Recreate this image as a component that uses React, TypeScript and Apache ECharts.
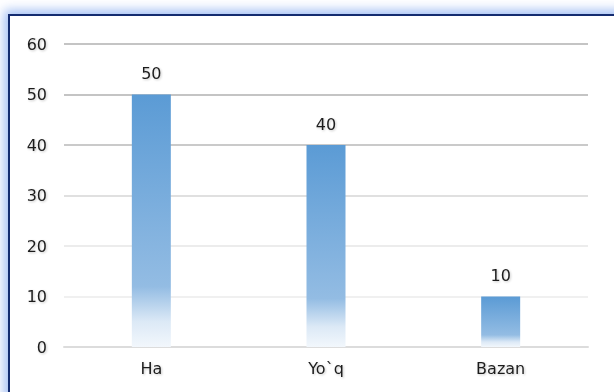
import React, { useEffect, useRef } from "react";
import * as echarts from "echarts";

const categories = ["Ha", "Yo`q", "Bazan"];
const values = [50, 40, 10];
const gridColors = ["#dcdcdc", "#f0f0f0", "#ececec", "#e0e0e0", "#cacaca", "#c4c4c4", "#c4c4c4"];

const FONT = "'DejaVu Sans', 'Open Sans', sans-serif";

export default function App() {
  const ref = useRef<HTMLDivElement>(null);
  useEffect(() => {
    if (!ref.current) return;
    const chart = echarts.init(ref.current, undefined, { renderer: "svg" });
    const textStyle = {
      color: "#1e1e1e",
      fontFamily: FONT,
      fontSize: 16,
      textShadowColor: "rgba(0,0,0,0.22)",
      textShadowBlur: 2,
      textShadowOffsetX: 1,
      textShadowOffsetY: 1,
    };
    chart.setOption({
      animation: false,
      grid: { left: 64, right: 26, top: 44, bottom: 45, containLabel: false },
      xAxis: {
        type: "category",
        data: categories,
        axisLine: { show: true, lineStyle: { color: "#dcdcdc", width: 2 } },
        axisTick: { show: false },
        axisLabel: { ...textStyle, margin: 13 },
      },
      yAxis: {
        type: "value",
        min: 0,
        max: 60,
        interval: 10,
        axisLine: { show: false },
        axisTick: { show: false },
        axisLabel: { ...textStyle, margin: 17 },
        splitLine: { lineStyle: { color: gridColors, width: 2 } },
      },
      series: [
        {
          type: "bar",
          data: values,
          barWidth: 39,
          itemStyle: {
            color: new echarts.graphic.LinearGradient(0, 0, 0, 1, [
              { offset: 0, color: "#5b9bd5" },
              { offset: 0.76, color: "#93bce3" },
              { offset: 0.9, color: "#dce9f6" },
              { offset: 1, color: "#f2f7fc" },
            ]),
          },
          label: {
            show: true,
            position: "top",
            distance: 13,
            ...textStyle,
          },
        },
      ],
    });
    return () => chart.dispose();
  }, []);
  return (
    <div style={{ position: "absolute", left: 0, top: 0, width: 614, height: 392, overflow: "hidden", background: "#fff" }}>
      <div
        style={{
          position: "absolute",
          left: 8,
          top: 14,
          width: 640,
          height: 420,
          border: "2px solid #142c70",
          boxShadow: "0 0 10px 4px rgba(90,140,235,0.55)",
          background: "#fff",
        }}
      />
      <div ref={ref} style={{ position: "absolute", left: 0, top: 0, width: 614, height: 392 }} />
    </div>
  );
}
